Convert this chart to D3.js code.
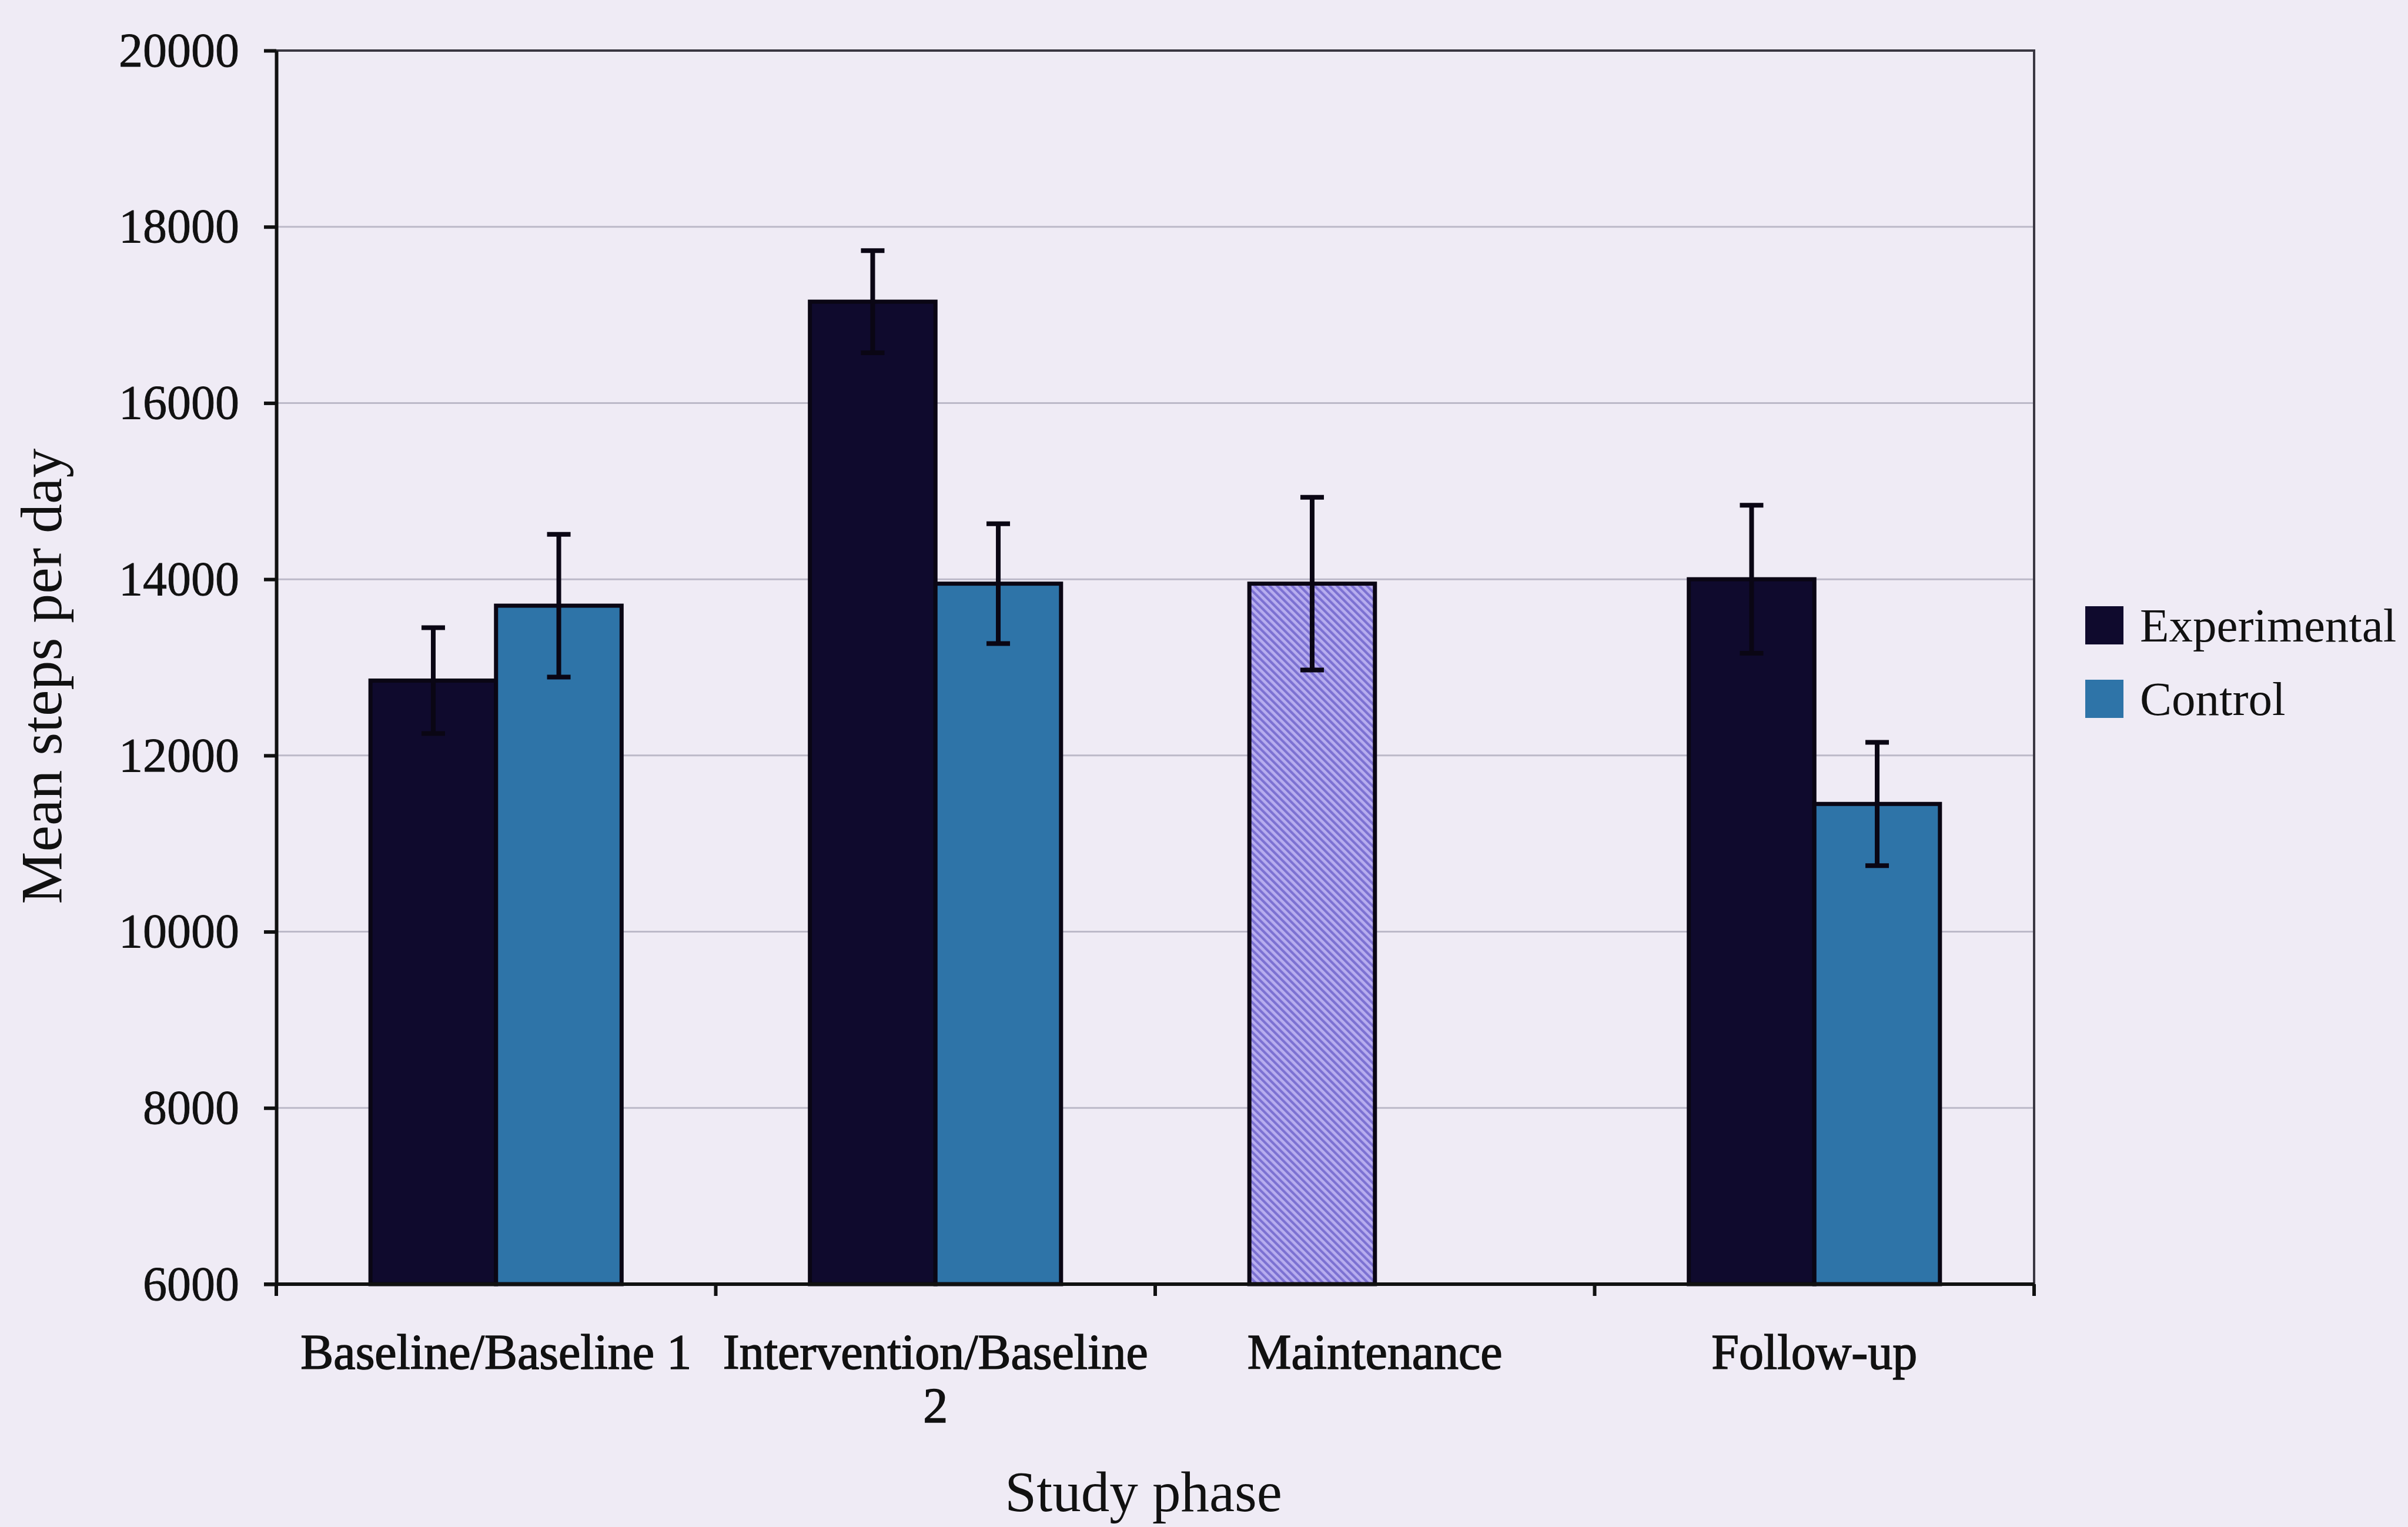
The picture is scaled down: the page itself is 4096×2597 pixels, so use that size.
<!DOCTYPE html>
<html>
<head>
<meta charset="utf-8">
<script src="https://cdn.jsdelivr.net/npm/d3@7"></script>
<style>
  html, body { margin: 0; padding: 0; background: #efebf5; }
  svg { display: block; }
</style>
</head>
<body>
<div id="chart"></div>
<script>
// Study phases and series
const categories = ['Baseline/Baseline 1', 'Intervention/Baseline 2', 'Maintenance', 'Follow-up'];
const seriesNames = ['Experimental', 'Control'];

// Mean steps per day and error (+/-) per phase
const experimental = [12850, 17150, 13950, 14000];
const experimentalErr = [600, 580, 980, 840];
const control = [13700, 13950, null, 11450];
const controlErr = [810, 680, null, 700];

const yTicks = [6000, 8000, 10000, 12000, 14000, 16000, 18000, 20000];

const W = 4096, H = 2597;
const margin = { top: 86, right: 636, bottom: 413, left: 470 };
const plotW = W - margin.left - margin.right;
const plotH = H - margin.top - margin.bottom;
const font = "'Liberation Serif', 'Times New Roman', serif";

const colors = { Experimental: '#0f0a2d', Control: '#2e74a8' };

const svg = d3.select('#chart').append('svg')
  .attr('width', W)
  .attr('height', H);

// Hatch fill for the maintenance bar
const defs = svg.append('defs');
const hatch = defs.append('pattern')
  .attr('id', 'hatch')
  .attr('patternUnits', 'userSpaceOnUse')
  .attr('width', 9)
  .attr('height', 9)
  .attr('patternTransform', 'rotate(-45)');
hatch.append('rect').attr('width', 9).attr('height', 9).attr('fill', '#b7adef');
hatch.append('line')
  .attr('x1', 2).attr('x2', 2).attr('y1', 0).attr('y2', 9)
  .attr('stroke', '#7c71d2').attr('stroke-width', 4.5);

const g = svg.append('g').attr('transform', `translate(${margin.left},${margin.top})`);

const x0 = d3.scaleBand().domain(categories).range([0, plotW]).padding(0);
const x1 = d3.scaleBand().domain(seriesNames).range([0, x0.bandwidth()]).paddingInner(0).paddingOuter(0.75);
const y = d3.scaleLinear().domain([6000, 20000]).range([plotH, 0]);

// Gridlines
g.append('g')
  .selectAll('line')
  .data(yTicks.filter(t => t > 6000 && t < 20000))
  .join('line')
  .attr('x1', 0).attr('x2', plotW)
  .attr('y1', d => y(d)).attr('y2', d => y(d))
  .attr('stroke', '#bcb9c8')
  .attr('stroke-width', 3);

// Flatten rows
const rows = [];
categories.forEach((c, i) => {
  rows.push({ cat: c, series: 'Experimental', value: experimental[i], err: experimentalErr[i] });
  rows.push({ cat: c, series: 'Control', value: control[i], err: controlErr[i] });
});
const bars = rows.filter(d => d.value != null);

g.append('g')
  .selectAll('rect')
  .data(bars)
  .join('rect')
  .attr('x', d => x0(d.cat) + x1(d.series))
  .attr('y', d => y(d.value))
  .attr('width', x1.bandwidth())
  .attr('height', d => y(6000) - y(d.value))
  .attr('fill', d => d.cat === 'Maintenance' ? 'url(#hatch)' : colors[d.series])
  .attr('stroke', '#0a0614')
  .attr('stroke-width', 7);

// Error bars
const capW = 40;
const eb = g.append('g')
  .selectAll('g')
  .data(bars)
  .join('g')
  .attr('stroke', '#0a0614')
  .attr('stroke-width', 8);
const cx = d => x0(d.cat) + x1(d.series) + x1.bandwidth() / 2;
eb.append('line')
  .attr('x1', cx).attr('x2', cx)
  .attr('y1', d => y(d.value - d.err))
  .attr('y2', d => y(d.value + d.err));
eb.append('line')
  .attr('x1', d => cx(d) - capW / 2).attr('x2', d => cx(d) + capW / 2)
  .attr('y1', d => y(d.value + d.err)).attr('y2', d => y(d.value + d.err));
eb.append('line')
  .attr('x1', d => cx(d) - capW / 2).attr('x2', d => cx(d) + capW / 2)
  .attr('y1', d => y(d.value - d.err)).attr('y2', d => y(d.value - d.err));

// Plot frame (top and right)
g.append('path')
  .attr('d', `M0,0H${plotW}V${plotH}`)
  .attr('fill', 'none')
  .attr('stroke', '#3a3742')
  .attr('stroke-width', 4);

// Y axis
const yAxis = g.append('g')
  .call(d3.axisLeft(y).tickValues(yTicks).tickFormat(d3.format('d'))
    .tickSize(21).tickSizeOuter(0).tickPadding(42));
yAxis.select('.domain').attr('stroke', '#111').attr('stroke-width', 6);
yAxis.selectAll('.tick line').attr('stroke', '#111').attr('stroke-width', 6);
yAxis.selectAll('.tick text')
  .attr('font-family', font)
  .attr('font-size', 82)
  .attr('fill', '#111')
  .attr('stroke', '#111')
  .attr('stroke-width', 0.8);

// X axis line and boundary ticks
g.append('line')
  .attr('x1', -21).attr('x2', plotW)
  .attr('y1', plotH).attr('y2', plotH)
  .attr('stroke', '#111').attr('stroke-width', 6);
g.append('g')
  .selectAll('line')
  .data(categories.map(c => x0(c)).concat([x0.range()[1]]))
  .join('line')
  .attr('x1', d => d).attr('x2', d => d)
  .attr('y1', plotH).attr('y2', plotH + 20)
  .attr('stroke', '#111').attr('stroke-width', 6);

// Category labels, wrapped to band width
const labelFont = 84;
const labels = g.append('g')
  .selectAll('text')
  .data(categories)
  .join('text')
  .attr('x', d => x0(d) + x0.bandwidth() / 2)
  .attr('y', plotH + 144)
  .attr('text-anchor', 'middle')
  .attr('font-family', font)
  .attr('font-size', labelFont)
  .attr('fill', '#111')
  .attr('stroke', '#111')
  .attr('stroke-width', 1.6);
labels.each(function (d) {
  const el = d3.select(this);
  const words = d.split(' ');
  let line = [];
  let tspan = el.append('tspan').attr('x', x0(d) + x0.bandwidth() / 2).attr('dy', 0);
  words.forEach(w => {
    line.push(w);
    tspan.text(line.join(' '));
    if (tspan.node().getComputedTextLength() > x0.bandwidth() - 20 && line.length > 1) {
      line.pop();
      tspan.text(line.join(' '));
      line = [w];
      tspan = el.append('tspan')
        .attr('x', x0(d) + x0.bandwidth() / 2)
        .attr('dy', 91)
        .text(w);
    }
  });
});

// Axis titles
svg.append('text')
  .attr('x', margin.left + plotW / 2 - 20)
  .attr('y', 2570)
  .attr('text-anchor', 'middle')
  .attr('font-family', font)
  .attr('font-size', 97)
  .attr('fill', '#111')
  .text('Study phase');

svg.append('text')
  .attr('transform', `translate(104,${margin.top + plotH / 2 + 15}) rotate(-90)`)
  .attr('text-anchor', 'middle')
  .attr('font-family', font)
  .attr('font-size', 100)
  .attr('fill', '#111')
  .text('Mean steps per day');

// Legend
const legend = svg.append('g').attr('transform', 'translate(3547,1031)');
seriesNames.forEach((s, i) => {
  const row = legend.append('g').attr('transform', `translate(0,${i * 125})`);
  row.append('rect')
    .attr('width', 65).attr('height', 65)
    .attr('fill', colors[s]);
  row.append('text')
    .attr('x', 93).attr('y', 60)
    .attr('font-family', font)
    .attr('font-size', 81)
    .attr('fill', '#111')
    .text(s);
});
</script>
</body>
</html>
